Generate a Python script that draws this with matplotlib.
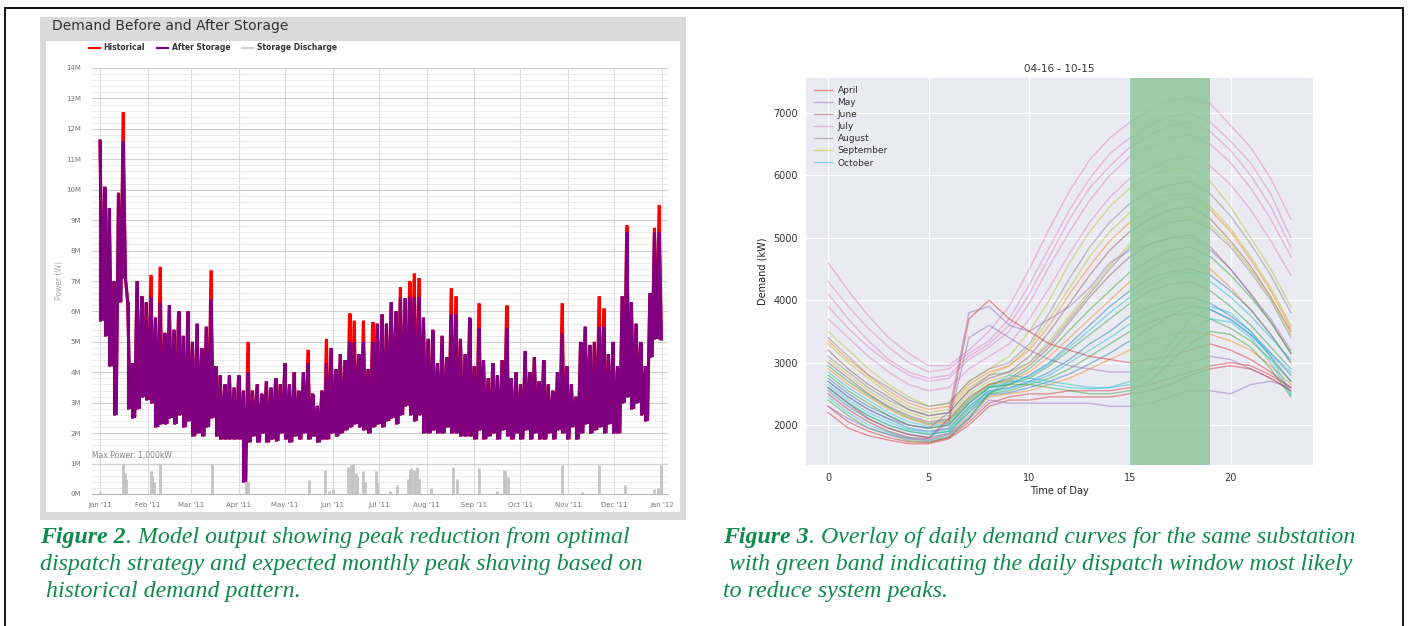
import numpy as np
import matplotlib
matplotlib.use('Agg')
import matplotlib.pyplot as plt
from matplotlib.patches import Rectangle
from matplotlib.lines import Line2D

# ---- Figure 2: demand before / after storage (values in MW, sampled every 3 days) ----
sample_days = np.arange(0, 366, 3)
after_high = [
    11.6, 10.1, 9.4, 7.0, 9.9, 11.6, 6.3, 4.3, 7.0, 6.5, 6.3, 6.47, 5.8, 6.3, 5.3, 6.2,
    5.4, 6.0, 5.2, 6.0, 5.0, 5.6, 4.8, 5.5, 6.4, 4.2, 3.9, 3.6, 3.9, 3.5, 3.9, 3.4,
    4.0, 3.4, 3.6, 3.3, 3.7, 3.5, 3.8, 3.6, 4.3, 3.6, 4.0, 3.4, 4.0, 4.3, 3.3, 2.9,
    3.4, 4.3, 4.8, 4.1, 4.6, 4.4, 5.0, 5.0, 4.6, 5.0, 4.1, 5.0, 5.6, 5.9, 5.6, 6.3,
    6.0, 6.43, 6.43, 6.46, 6.46, 6.46, 5.8, 5.1, 5.4, 4.3, 5.2, 4.5, 5.9, 5.9, 5.1, 4.6,
    5.8, 4.2, 5.45, 4.4, 3.8, 4.3, 3.9, 4.4, 5.45, 3.8, 4.0, 3.6, 4.7, 4.0, 4.5, 3.7,
    4.4, 3.6, 3.4, 4.0, 5.28, 4.2, 3.6, 3.2, 5.0, 5.5, 4.9, 5.0, 5.5, 5.5, 4.6, 5.0,
    4.2, 6.5, 8.6, 6.3, 5.6, 5.0, 4.2, 6.6, 8.6, 8.6,
]
after_low = [
    5.7, 5.2, 4.2, 2.6, 6.3, 7.1, 2.8, 2.5, 2.8, 3.2, 3.1, 3.0, 2.2, 2.3, 2.3, 2.5,
    2.3, 2.6, 2.2, 2.4, 1.9, 2.0, 1.9, 2.2, 2.5, 1.9, 1.8, 1.8, 1.8, 1.8, 1.8, 0.4,
    1.7, 1.9, 1.7, 2.0, 1.7, 1.8, 1.75, 2.0, 1.8, 1.7, 1.9, 1.8, 2.0, 1.8, 1.9, 1.7,
    1.8, 1.8, 2.0, 1.9, 2.0, 2.1, 2.2, 2.3, 2.2, 2.1, 2.0, 2.2, 2.3, 2.2, 2.4, 2.5,
    2.3, 2.6, 2.9, 2.6, 2.4, 2.6, 2.0, 2.0, 2.1, 2.0, 2.0, 2.2, 2.0, 2.0, 1.9, 1.9,
    1.9, 1.8, 2.1, 1.8, 1.9, 2.0, 1.8, 2.1, 1.9, 1.8, 2.0, 1.8, 2.1, 1.8, 2.0, 1.8,
    1.8, 2.0, 1.8, 2.1, 2.0, 1.8, 2.2, 1.8, 2.0, 2.3, 2.0, 2.1, 2.2, 2.0, 2.3, 2.0,
    2.0, 3.0, 3.2, 2.8, 3.0, 2.6, 2.4, 4.5, 5.1, 5.1,
]
peak_days = [15, 33, 39, 72, 96, 135, 147, 162, 165, 171, 177, 195, 201, 204, 207,
             228, 231, 246, 264, 300, 324, 327, 342, 360, 363]
peak_vals = [12.55, 7.2, 7.47, 7.35, 5.0, 4.74, 5.1, 5.94, 5.7, 5.7, 5.66, 6.8, 7.0, 7.25, 7.1,
             6.76, 6.5, 6.27, 6.2, 6.27, 6.5, 6.1, 8.84, 8.75, 9.5]
discharge_days = [0, 15, 16, 17, 33, 34, 35, 39, 73, 95, 96, 136, 146, 149, 151, 161, 163, 164,
                  166, 167, 171, 172, 179, 180, 188, 193, 200, 201, 202, 204, 205, 206, 207,
                  215, 229, 232, 246, 258, 262, 263, 265, 300, 313, 324, 341, 360, 362, 364]
discharge_mw = [0.08, 1.0, 0.7, 0.5, 0.75, 0.6, 0.4, 1.0, 1.0, 1.0, 0.4, 0.45, 0.8, 0.1, 0.15, 0.9,
                0.95, 1.0, 0.7, 0.6, 0.75, 0.4, 0.75, 0.35, 0.1, 0.3, 0.5, 0.8, 0.85, 0.8, 0.6,
                0.9, 0.5, 0.2, 0.9, 0.5, 0.85, 0.1, 0.8, 0.75, 0.55, 0.95, 0.05, 0.95, 0.3,
                0.15, 0.2, 0.95]
month_starts = [0, 31, 59, 90, 120, 151, 181, 212, 243, 273, 304, 334, 365]
month_labels = ["Jan '11", "Feb '11", "Mar '11", "Apr '11", "May '11", "Jun '11", "Jul '11",
                "Aug '11", "Sep '11", "Oct '11", "Nov '11", "Dec '11", "Jan '12"]

# ---- Figure 3: daily demand curves, kW by hour ----
hours = np.arange(24)
daily_curves = [
    [4600, 4150, 3750, 3400, 3150, 2950, 2950, 3200, 3500, 3900, 4500, 5150, 5750, 6250, 6600, 6850, 7050, 7200, 7250, 7150, 6800, 6450, 5950, 5300],
    [4300, 3900, 3550, 3250, 3000, 2850, 2900, 3150, 3350, 3700, 4250, 4850, 5450, 5950, 6350, 6600, 6800, 6950, 7000, 6850, 6550, 6200, 5700, 5000],
    [4100, 3700, 3350, 3050, 2850, 2750, 2800, 3100, 3300, 3600, 4100, 4700, 5300, 5800, 6150, 6450, 6650, 6800, 6850, 6700, 6400, 6000, 5500, 4850],
    [3900, 3550, 3250, 3000, 2800, 2700, 2750, 3050, 3250, 3500, 3950, 4550, 5100, 5600, 6000, 6300, 6450, 6600, 6650, 6500, 6200, 5800, 5300, 4700],
    [3700, 3400, 3100, 2850, 2650, 2550, 2600, 2900, 3100, 3300, 3700, 4200, 4750, 5250, 5650, 5950, 6100, 6250, 6300, 6150, 5850, 5450, 4950, 4400],
    [3500, 3200, 2900, 2650, 2450, 2300, 2350, 2700, 2900, 3100, 3500, 4000, 4600, 5100, 5500, 5800, 6000, 6100, 6100, 5900, 5500, 5000, 4500, 3900],
    [3400, 3100, 2800, 2600, 2400, 2300, 2350, 2700, 2900, 3000, 3300, 3800, 4350, 4850, 5250, 5550, 5750, 5850, 5900, 5700, 5350, 4900, 4400, 3800],
    [3300, 3000, 2750, 2500, 2300, 2200, 2250, 2600, 2800, 2950, 3250, 3700, 4200, 4700, 5100, 5400, 5600, 5700, 5700, 5500, 5150, 4700, 4200, 3600],
    [3350, 3050, 2800, 2550, 2350, 2250, 2300, 2650, 2850, 2950, 3200, 3600, 4100, 4550, 4950, 5250, 5450, 5600, 5650, 5450, 5100, 4650, 4150, 3550],
    [3200, 2900, 2650, 2450, 2250, 2150, 2200, 2550, 2750, 2850, 3100, 3500, 3950, 4400, 4800, 5100, 5300, 5450, 5500, 5300, 4950, 4550, 4050, 3500],
    [3100, 2850, 2600, 2400, 2250, 2150, 2200, 2550, 2800, 2850, 3000, 3300, 3700, 4100, 4500, 4850, 5100, 5250, 5300, 5150, 4850, 4450, 4000, 3400],
    [3050, 2800, 2550, 2350, 2200, 2100, 2150, 2500, 2700, 2800, 3000, 3350, 3750, 4150, 4550, 4900, 5150, 5300, 5350, 5200, 4900, 4500, 4050, 3450],
    [3000, 2750, 2500, 2300, 2150, 2050, 2100, 2450, 2650, 2750, 2950, 3250, 3650, 4050, 4400, 4700, 4900, 5000, 5050, 4850, 4500, 4100, 3650, 3150],
    [2950, 2700, 2480, 2280, 2120, 2020, 2080, 2420, 2650, 2720, 2900, 3180, 3520, 3850, 4150, 4450, 4650, 4800, 4850, 4700, 4400, 4050, 3650, 3150],
    [2900, 2650, 2450, 2250, 2100, 2000, 2050, 2400, 2650, 2700, 2850, 3100, 3400, 3700, 4000, 4300, 4500, 4650, 4700, 4500, 4200, 3850, 3450, 3000],
    [2750, 2500, 2300, 2150, 2000, 1950, 2000, 2350, 2600, 2650, 2800, 3000, 3300, 3600, 3900, 4150, 4350, 4450, 4500, 4400, 4150, 3850, 3450, 3000],
    [2850, 2600, 2400, 2200, 2050, 1980, 2030, 2380, 2620, 2680, 2780, 2980, 3250, 3520, 3800, 4050, 4250, 4400, 4450, 4300, 4050, 3750, 3400, 3050],
    [2800, 2550, 2350, 2150, 2000, 1950, 2000, 2350, 2600, 2650, 2750, 2950, 3200, 3450, 3700, 3950, 4150, 4250, 4300, 4150, 3900, 3600, 3250, 2900],
    [2700, 2450, 2250, 2100, 1950, 1900, 1950, 2300, 2550, 2600, 2700, 2850, 3050, 3300, 3500, 3750, 3900, 4000, 4050, 3950, 3750, 3500, 3150, 2800],
    [2650, 2400, 2200, 2050, 1930, 1880, 1930, 2280, 2530, 2580, 2680, 2800, 3000, 3200, 3400, 3620, 3800, 3900, 3950, 3850, 3680, 3450, 3150, 2850],
    [2600, 2350, 2150, 2000, 1900, 1850, 1900, 2250, 2500, 2550, 2650, 2750, 2900, 3100, 3300, 3500, 3650, 3750, 3800, 3700, 3550, 3350, 3050, 2700],
    [2500, 2250, 2050, 1900, 1800, 1780, 1850, 2150, 2450, 2500, 2550, 2650, 2750, 2900, 3050, 3200, 3350, 3450, 3500, 3450, 3350, 3200, 2950, 2650],
    [2550, 2300, 2100, 1950, 1850, 1800, 1870, 2200, 2480, 2520, 2600, 2700, 2820, 2980, 3150, 3350, 3550, 3750, 3900, 3850, 3700, 3450, 3100, 2700],
    [2700, 2450, 2250, 2100, 2000, 1950, 2200, 3800, 3900, 3600, 3500, 3700, 3900, 4200, 4600, 4800, 4900, 5000, 5000, 4800, 4500, 4100, 3700, 3200],
    [2600, 2350, 2100, 1950, 1850, 1800, 2100, 3700, 4000, 3700, 3500, 3300, 3200, 3100, 3050, 3000, 3050, 3100, 3200, 3300, 3200, 3050, 2850, 2600],
    [2500, 2250, 2050, 1900, 1800, 1780, 2050, 3400, 3600, 3400, 3200, 3050, 2950, 2900, 2850, 2850, 2900, 2950, 3000, 3100, 3050, 2900, 2750, 2550],
    [2600, 2350, 2150, 2000, 1900, 1850, 1900, 2200, 2600, 2800, 2750, 2700, 2650, 2600, 2600, 2700, 2900, 3300, 3700, 3900, 3800, 3500, 3100, 2500],
    [2450, 2200, 2000, 1880, 1780, 1750, 1820, 2120, 2520, 2700, 2700, 2650, 2600, 2580, 2600, 2650, 2850, 3150, 3500, 3700, 3650, 3400, 3000, 2480],
    [2400, 2150, 1950, 1850, 1750, 1730, 1800, 2100, 2500, 2650, 2650, 2600, 2550, 2500, 2500, 2550, 2700, 3000, 3300, 3500, 3450, 3250, 2900, 2450],
    [2300, 2050, 1900, 1800, 1730, 1720, 1800, 2050, 2350, 2450, 2500, 2500, 2550, 2550, 2550, 2600, 2650, 2750, 2850, 2950, 3000, 2950, 2800, 2600],
    [2200, 1950, 1830, 1760, 1700, 1700, 1780, 2000, 2300, 2400, 2400, 2450, 2450, 2450, 2450, 2500, 2550, 2650, 2800, 2900, 2950, 2900, 2750, 2550],
    [2300, 2100, 1950, 1850, 1780, 1760, 1850, 2100, 2400, 2350, 2350, 2350, 2350, 2350, 2300, 2300, 2350, 2450, 2550, 2550, 2500, 2650, 2700, 2600],
]
months = ['April', 'May', 'June', 'July', 'August', 'September', 'October']
month_colors = ['C3', 'C4', 'C5', 'C6', 'C7', 'C8', 'C9']
curve_colors = ['C6', 'C6', 'C6', 'C6', 'C6', 'C8', 'C7', 'C8', 'C1', 'C5', 'C7', 'C8', 'C5',
                'C2', 'C1', 'C0', 'C9', 'C2', 'C0', 'C9', 'C2', 'C1', 'C0', 'C4', 'C3', 'C4',
                'C9', 'C9', 'C2', 'C3', 'C3', 'C4']

W, H = 1408, 626
fig = plt.figure(figsize=(W / 100, H / 100), dpi=100)
fig.patch.set_facecolor('white')


def fx(px):
    return px / W


def fy(py):
    return 1 - py / H


# page frame and the grey chart panel (drawn behind the axes)
fig.patches.append(Rectangle((fx(5), fy(640)), fx(1398), 632 / H, transform=fig.transFigure,
                             fill=False, edgecolor='black', lw=1.3, zorder=-5))
fig.patches.append(Rectangle((fx(40), fy(520)), fx(646), 503 / H, transform=fig.transFigure,
                             facecolor='#dadada', edgecolor='none', zorder=-5))
fig.patches.append(Rectangle((fx(46), fy(512)), fx(634), 471 / H, transform=fig.transFigure,
                             facecolor='white', edgecolor='none', zorder=-4))
fig.text(fx(52), fy(26), 'Demand Before and After Storage', fontsize=10, color='#333333',
         va='center', ha='left')

# ---------------- left chart ----------------
ax1 = fig.add_axes([fx(92), fy(494), fx(576), 426 / H])
ax1.set_facecolor('none')
ax1.set_xlim(-5.2, 368.8)
ax1.set_ylim(0, 14e6)

high = np.array(after_high) * 1e6
low = np.array(after_low) * 1e6
hist = high.copy()
for d, v in zip(peak_days, peak_vals):
    hist[list(sample_days).index(d)] = v * 1e6

zx = np.column_stack([sample_days, sample_days + 1.5]).ravel()
zy_after = np.column_stack([high, low]).ravel()
zy_hist = np.column_stack([hist, low]).ravel()

ax1.plot(zx, zy_hist, color='#ff0000', lw=2.2, zorder=3, solid_joinstyle='miter')
ax1.vlines(sample_days, low, hist, color='#ff0000', lw=2.2, zorder=3)
ax1.plot(zx, zy_after, color='#800080', lw=2.2, zorder=4, solid_joinstyle='miter')
ax1.vlines(sample_days, low, high, color='#800080', lw=2.2, zorder=4)
ax1.vlines(discharge_days, 0, np.array(discharge_mw) * 1e6, color='#c4c4c4', lw=2.0, zorder=2)

ax1.set_yticks(np.arange(0, 15e6, 1e6))
ax1.set_yticklabels([f'{i}M' for i in range(15)])
ax1.set_yticks(np.arange(0, 14e6, 0.2e6), minor=True)
ax1.set_xticks(month_starts)
ax1.set_xticklabels(month_labels)
ax1.grid(axis='y', which='major', color='#d0d0d0', lw=0.8)
ax1.grid(axis='y', which='minor', color='#e6e6e6', lw=0.6)
ax1.grid(axis='x', which='major', color='#dddddd', lw=0.8)
ax1.axhline(1e6, color='#c8c8c8', lw=0.9, zorder=1)
ax1.tick_params(axis='both', which='both', length=0, labelsize=5, labelcolor='#777777')
ax1.tick_params(axis='y', pad=8)
ax1.tick_params(axis='x', pad=6)
for side in ['top', 'right', 'left']:
    ax1.spines[side].set_visible(False)
ax1.spines['bottom'].set_color('#bbbbbb')
ax1.text(-5, 1.12e6, 'Max Power: 1,000kW', fontsize=5.5, color='#888888', va='bottom')
fig.text(fx(60), fy(280), 'Power (W)', rotation=90, fontsize=5.5, color='#aaaaaa',
         va='center', ha='center')

legend_items = [('Historical', '#ff0000'), ('After Storage', '#800080'),
                ('Storage Discharge', '#d0d0d0')]
fig.legend([Line2D([], [], color=c, lw=1.5) for _, c in legend_items],
           [n for n, _ in legend_items], loc='center left', bbox_to_anchor=(fx(82), fy(48)),
           ncol=3, frameon=False, prop={'size': 5.5, 'weight': 'bold'}, handlelength=1.4,
           columnspacing=1.6, handletextpad=0.5, labelcolor='#333333')

# ---------------- right chart ----------------
ax2 = fig.add_axes([fx(806), fy(465), fx(507), 387 / H])
ax2.set_facecolor('#eaeaf2')
for curve, col in zip(daily_curves, curve_colors):
    ax2.plot(hours, curve, color=col, alpha=0.45, lw=1.0)
ax2.axvspan(15, 19, color='#8fc79a', alpha=0.85, lw=0, zorder=3)
ax2.set_xlim(-1.1, 24.1)
ax2.set_ylim(1360, 7560)
ax2.set_xticks([0, 5, 10, 15, 20])
ax2.set_yticks([2000, 3000, 4000, 5000, 6000, 7000])
ax2.grid(color='white', lw=0.9)
ax2.set_axisbelow(True)
for s in ax2.spines.values():
    s.set_visible(False)
ax2.tick_params(length=0, labelsize=7, labelcolor='#333333', pad=6)
ax2.set_title('04-16 - 10-15', fontsize=7.5, color='#333333', pad=4)
ax2.set_xlabel('Time of Day', fontsize=7, color='#222222', labelpad=2)
ax2.set_ylabel('Demand (kW)', fontsize=7, color='#222222', labelpad=4)
ax2.legend([Line2D([], [], color=c, alpha=0.5, lw=1.0) for c in month_colors], months,
           loc='upper left', frameon=False, fontsize=6.5, handlelength=2.0,
           labelspacing=0.34, borderaxespad=0.5, handletextpad=0.6, labelcolor='#333333')

# ---------------- captions ----------------
green = '#0e8a4c'
renderer = fig.canvas.get_renderer()


def caption(x, lines, label):
    y0 = 537
    for k, line in enumerate(lines):
        xx = fx(x)
        if k == 0:
            t = fig.text(xx, fy(y0), label, fontsize=17.2, family='Liberation Serif',
                         style='italic', weight='bold', color=green, va='center')
            xx = fig.transFigure.inverted().transform(
                t.get_window_extent(renderer).get_points())[1][0]
        fig.text(xx, fy(y0 + 27.5 * k), line, fontsize=17.2, family='Liberation Serif',
                 style='italic', color=green, va='center')


caption(40, ['. Model output showing peak reduction from optimal',
             'dispatch strategy and expected monthly peak shaving based on',
             ' historical demand pattern.'], 'Figure 2')
caption(723, ['. Overlay of daily demand curves for the same substation',
              ' with green band indicating the daily dispatch window most likely',
              'to reduce system peaks.'], 'Figure 3')

fig.savefig('out.png', dpi=100, facecolor='white')
